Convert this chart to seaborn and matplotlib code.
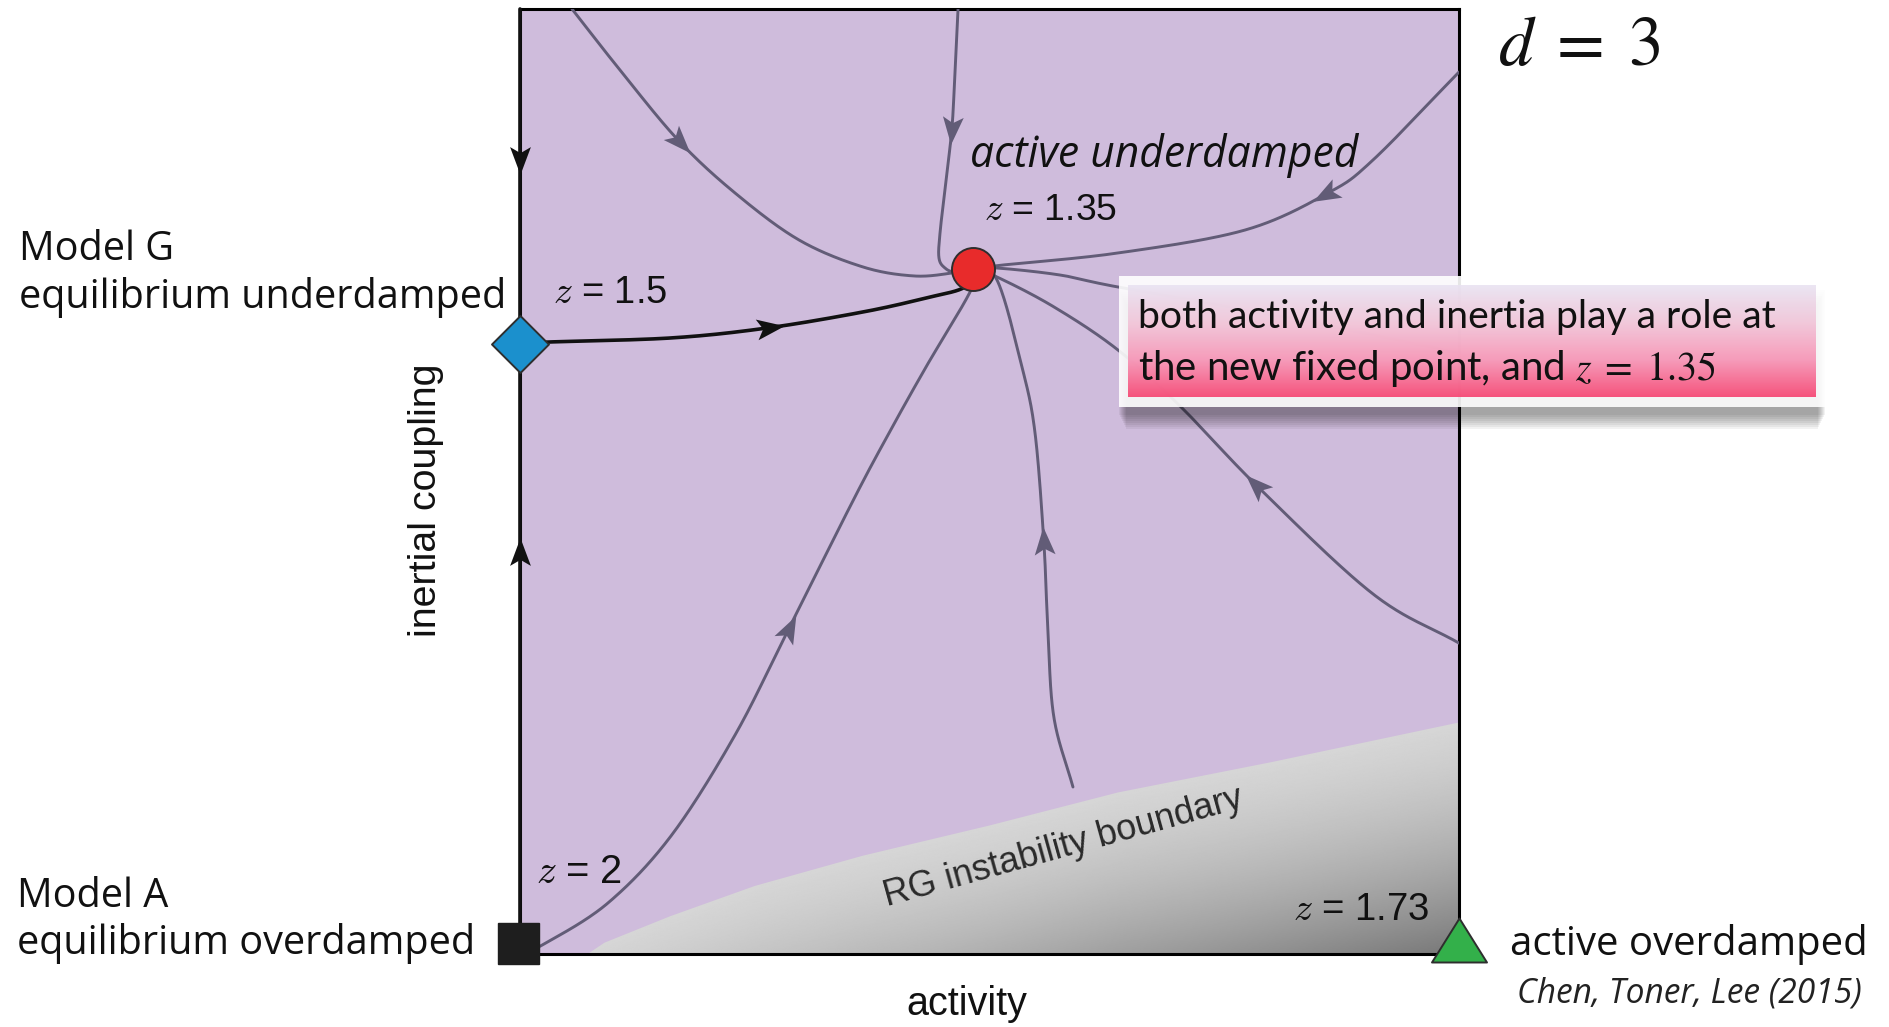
import numpy as np
import matplotlib
matplotlib.use("Agg")
import matplotlib.pyplot as plt
from matplotlib.markers import MarkerStyle
from matplotlib.path import Path
from matplotlib.transforms import Affine2D
from matplotlib.patches import Rectangle, Polygon
from matplotlib.colors import LinearSegmentedColormap
import seaborn as sns

sns.set_theme(style="white")

# ---------------------------------------------------------------------------
# RG flow diagram in the (activity, inertial coupling) plane, d = 3
# ---------------------------------------------------------------------------

# fixed points (activity, inertial coupling)
fp_model_a = (-0.002, 0.012)
fp_model_g = (0.0, 0.6455)
fp_active_under = (0.4824, 0.7249)
fp_active_over = (1.0, 0.0148)

# flow lines, each listed along the flow direction; *_arrow = index of arrowhead
flow_top_left_x = [0.0554, 0.1065, 0.1683, 0.2290, 0.2971, 0.3653, 0.4196, 0.4601, 0.4824]
flow_top_left_y = [1.0000, 0.9354, 0.8614, 0.8053, 0.7556, 0.7270, 0.7175, 0.7206, 0.7249]
flow_top_left_arrow = 2

flow_top_mid_x = [0.4665, 0.4633, 0.4601, 0.4537, 0.4473, 0.4462, 0.4526, 0.4633, 0.4824]
flow_top_mid_y = [1.0000, 0.9354, 0.8751, 0.8190, 0.7630, 0.7365, 0.7259, 0.7217, 0.7249]
flow_top_mid_arrow = 2

flow_top_right_x = [1.0000, 0.9084, 0.8605, 0.7721, 0.6368, 0.5144, 0.4824]
flow_top_right_y = [0.9333, 0.8402, 0.8053, 0.7661, 0.7418, 0.7291, 0.7249]
flow_top_right_arrow = 2

flow_model_g_x = [0.0, 0.0309, 0.1608, 0.2630, 0.3653, 0.4324, 0.4739, 0.4824]
flow_model_g_y = [0.6455, 0.6476, 0.6519, 0.6624, 0.6794, 0.6942, 0.7058, 0.7249]
flow_model_g_arrow = 3

flow_right_flat_x = [1.0000, 0.8307, 0.6368, 0.5751, 0.5080, 0.4824]
flow_right_flat_y = [0.6360, 0.6709, 0.7058, 0.7185, 0.7259, 0.7249]

flow_right_low_x = [1.0000, 0.9084, 0.7860, 0.7040, 0.6368, 0.5687, 0.5080, 0.4824]
flow_right_low_y = [0.3290, 0.3810, 0.4942, 0.5788, 0.6392, 0.6847, 0.7164, 0.7249]
flow_right_low_arrow = 2

flow_bottom_x = [0.5889, 0.5687, 0.5623, 0.5580, 0.5485, 0.5346, 0.5080, 0.4824]
flow_bottom_y = [0.1767, 0.2497, 0.3386, 0.4339, 0.5513, 0.6212, 0.7132, 0.7249]
flow_bottom_arrow = 3

flow_model_a_x = [0.0, 0.0256, 0.0937, 0.1608, 0.2290, 0.2850, 0.3550, 0.3930, 0.4324, 0.4803, 0.4824]
flow_model_a_y = [0.0, 0.0106, 0.0540, 0.1249, 0.2317, 0.3418, 0.4804, 0.5513, 0.6212, 0.7026, 0.7249]
flow_model_a_arrow = 5

# flows along the equilibrium (zero activity) axis
axis_up_y = [0.0, 0.4222, 0.6455]
axis_down_y = [1.0, 0.8434, 0.6455]

# RG instability boundary (gray region lies below it)
boundary_x = [0.072, 0.090, 0.120, 0.160, 0.250, 0.365, 0.500, 0.637, 0.800, 1.000]
boundary_y = [0.000, 0.012, 0.024, 0.040, 0.072, 0.104, 0.136, 0.171, 0.203, 0.245]

# ---------------------------------------------------------------------------
W, H, DPI = 1890, 1027, 100
AX_L, AX_R, AX_T, AX_B = 520, 1459, 9, 954
AX_W, AX_H = AX_R - AX_L, AX_B - AX_T

PURPLE = "#cfbcdc"
FLOW = "#625c77"
INK = "#111111"

fig = plt.figure(figsize=(W / DPI, H / DPI), dpi=DPI)
fig.patch.set_facecolor("white")
ax = fig.add_axes([AX_L / W, (H - AX_B) / H, AX_W / W, AX_H / H])
ax.set_facecolor(PURPLE)


def smooth(xs, ys, n=40):
    """Catmull-Rom curve through the given points (in pixel-scaled space)."""
    p = np.column_stack([xs, ys]) * [AX_W, AX_H]
    p = np.vstack([2 * p[0] - p[1], p, 2 * p[-1] - p[-2]])
    out = []
    t = np.linspace(0, 1, n, endpoint=False)[:, None]
    for i in range(1, len(p) - 2):
        p0, p1, p2, p3 = p[i - 1], p[i], p[i + 1], p[i + 2]
        seg = 0.5 * (2 * p1 + (-p0 + p2) * t + (2 * p0 - 5 * p1 + 4 * p2 - p3) * t ** 2
                     + (-p0 + 3 * p1 - 3 * p2 + p3) * t ** 3)
        out.append(seg)
    out.append(p[-2][None])
    out = np.vstack(out) / [AX_W, AX_H]
    return out[:, 0], out[:, 1]


HEAD = Path([(1, 0), (-0.6, 0.6), (-0.25, 0), (-0.6, -0.6), (1, 0)],
            [Path.MOVETO, Path.LINETO, Path.LINETO, Path.LINETO, Path.CLOSEPOLY])


def head(x, y, angle, color, size=25):
    m = MarkerStyle(HEAD, transform=Affine2D().rotate_deg(angle))
    ax.plot([x], [y], linestyle="none", marker=m, markersize=size, color=color,
            markeredgewidth=0, zorder=5, clip_on=False)


def flow(xs, ys, arrow=None, color=FLOW, lw=2.1):
    sx, sy = smooth(xs, ys)
    sns.lineplot(x=sx, y=sy, sort=False, estimator=None, ax=ax, color=color,
                 linewidth=lw, legend=False, zorder=3)
    if arrow is not None:
        dx = (xs[arrow + 1] - xs[arrow - 1]) * AX_W
        dy = (ys[arrow + 1] - ys[arrow - 1]) * AX_H
        head(xs[arrow], ys[arrow], np.degrees(np.arctan2(dy, dx)), color)


# gray unstable region, shaded in bands parallel to the boundary
gx = np.linspace(0, 1, 800)
gy = np.linspace(0, 0.3, 400)
GX, GY = np.meshgrid(gx, gy)
dist = np.clip(np.interp(GX, boundary_x, boundary_y) - GY, 0, None)
shade = 0.84 - 0.7 * dist - 3.3 * dist ** 2
img = ax.imshow(shade, extent=(0, 1, 0, 0.3), origin="lower", cmap="gray", vmin=0, vmax=1,
                aspect="auto", interpolation="bilinear", zorder=1)
region = Polygon(np.column_stack([boundary_x + [1.0], boundary_y + [0.0]]), closed=True,
                 facecolor="none", edgecolor="none", transform=ax.transData)
ax.add_patch(region)
img.set_clip_path(region)

# flow lines
flow(flow_top_left_x, flow_top_left_y, flow_top_left_arrow)
flow(flow_top_mid_x, flow_top_mid_y, flow_top_mid_arrow)
flow(flow_top_right_x, flow_top_right_y, flow_top_right_arrow)
flow(flow_right_flat_x, flow_right_flat_y)
flow(flow_right_low_x, flow_right_low_y, flow_right_low_arrow)
flow(flow_bottom_x, flow_bottom_y, flow_bottom_arrow)
flow(flow_model_a_x, flow_model_a_y, flow_model_a_arrow)
flow(flow_model_g_x, flow_model_g_y, flow_model_g_arrow, color=INK, lw=2.6)

# flows along the activity = 0 axis
ax.plot([0] * len(axis_up_y), axis_up_y, color=INK, lw=2.6, zorder=4, clip_on=False)
ax.plot([0] * len(axis_down_y), axis_down_y, color=INK, lw=2.6, zorder=4, clip_on=False)
head(0, axis_up_y[1], 90, INK)
head(0, axis_down_y[1], -90, INK)

ax.set_xlim(0, 1)
ax.set_ylim(0, 1)
ax.set_xticks([])
ax.set_yticks([])
for sp in ax.spines.values():
    sp.set_color("black")
    sp.set_linewidth(2.2)

# fixed points
EDGE = "#2e2e2e"
px2pt = 72 / DPI
ax.plot(*fp_model_a, marker="s", markersize=41 * px2pt, markerfacecolor="#1e1e1e",
        markeredgecolor="#1e1e1e", clip_on=False, zorder=7)
diamond = Path([(0, 1), (1, 0), (0, -1), (-1, 0), (0, 1)],
               [Path.MOVETO, Path.LINETO, Path.LINETO, Path.LINETO, Path.CLOSEPOLY])
ax.plot(*fp_model_g, marker=diamond, markersize=57 * px2pt, markerfacecolor="#1b90cd",
        markeredgecolor=EDGE, markeredgewidth=1.4, clip_on=False, zorder=7)
ax.plot(*fp_active_under, marker="o", markersize=43 * px2pt, markerfacecolor="#e82b2b",
        markeredgecolor=EDGE, markeredgewidth=1.4, clip_on=False, zorder=7)
tri = Path([(-1, -0.8), (1, -0.8), (0, 0.8), (-1, -0.8)],
           [Path.MOVETO, Path.LINETO, Path.LINETO, Path.CLOSEPOLY])
ax.plot(*fp_active_over, marker=tri, markersize=55 * px2pt, markerfacecolor="#33b04a",
        markeredgecolor=EDGE, markeredgewidth=1.4, clip_on=False, zorder=7)

# ---------------------------------------------------------------------------
# annotation layer in pixel coordinates
ov = fig.add_axes([0, 0, 1, 1])
ov.set_zorder(10)
ov.patch.set_visible(False)
ov.axis("off")

renderer = fig.canvas.get_renderer()


def fit_text(x, y, s, width, size=20, **kw):
    rot = kw.pop("rotation", 0)
    t = ov.text(x, y, s, fontsize=size, **kw)
    w = t.get_window_extent(renderer).width
    t.set_fontsize(size * width / w)
    t.set_rotation(rot)
    return t


HUMAN = ["Open Sans", "DejaVu Sans"]
HELV = ["Liberation Sans", "DejaVu Sans"]

t = fit_text(19, 308, "equilibrium underdamped", 487, family=HUMAN, va="baseline", color=INK)
ov.text(19, 260, "Model G", fontsize=t.get_fontsize(), family=HUMAN, va="baseline", color=INK)
t = fit_text(17, 954, "equilibrium overdamped", 458, family=HUMAN, va="baseline", color=INK)
ov.text(17, 907, "Model A", fontsize=t.get_fontsize(), family=HUMAN, va="baseline", color=INK)
fit_text(1510, 955, "active overdamped", 357, family=HUMAN, va="baseline", color=INK)
fit_text(1517, 1003, "Chen, Toner, Lee (2015)", 345, family=HUMAN, style="italic",
         va="baseline", color="#222222")
fit_text(970, 167, "active underdamped", 388, family=HUMAN, style="italic",
         va="baseline", color=INK)
fit_text(1498, 65, r"$d\;=\;3$", 165, math_fontfamily="stix", va="baseline", color=INK)

fit_text(967, 1015, "activity", 121, family=HELV, ha="center", va="baseline", color=INK)
fit_text(426, 500, "inertial coupling", 273, family=HELV, ha="center", va="center",
         rotation=90, rotation_mode="anchor", color=INK)
fit_text(1063, 847, "RG instability boundary", 372, family=HELV, ha="center", va="center",
         rotation=15.5, rotation_mode="anchor", color="#2a2a2a")

for x, y, s, w in [(553, 303, r"$z$ = 1.5", 115), (984, 220, r"$z$ = 1.35", 134),
                   (536, 883, r"$z$ = 2", 87), (1293, 920, r"$z$ = 1.73", 137)]:
    fit_text(x, y, s, w, family=HELV, math_fontfamily="cm", va="baseline", color=INK)

# callout box with a soft shadow underneath
for k in range(8):
    ov.add_patch(Rectangle((1119 + k, 290 + 2 * k), 706 - 2 * k, 125,
                           facecolor="black", edgecolor="none", alpha=0.05, zorder=1))
ov.add_patch(Rectangle((1119, 276), 706, 131, facecolor="white", edgecolor="none",
                       alpha=0.9, zorder=2))
callout_cmap = LinearSegmentedColormap.from_list(
    "callout", ["#e9e3f2", "#f1c4d8", "#f792b4", "#f6416f"])
ov.imshow(np.linspace(0, 1, 256).reshape(-1, 1), cmap=callout_cmap,
          extent=(1128, 1816, 397, 285), aspect="auto", alpha=0.9, zorder=3)
fit_text(1138, 328, "both activity and inertia play a role at", 640,
         family=["Lato", "DejaVu Sans"], va="baseline", color=INK, zorder=4)
fit_text(1138, 380, r"the new fixed point, and $z\;=\;1.35$", 579,
         family=["Lato", "DejaVu Sans"], math_fontfamily="stix", va="baseline",
         color=INK, zorder=4)

ov.set_xlim(0, W)
ov.set_ylim(H, 0)

fig.savefig("out.png", dpi=DPI, facecolor="white")
